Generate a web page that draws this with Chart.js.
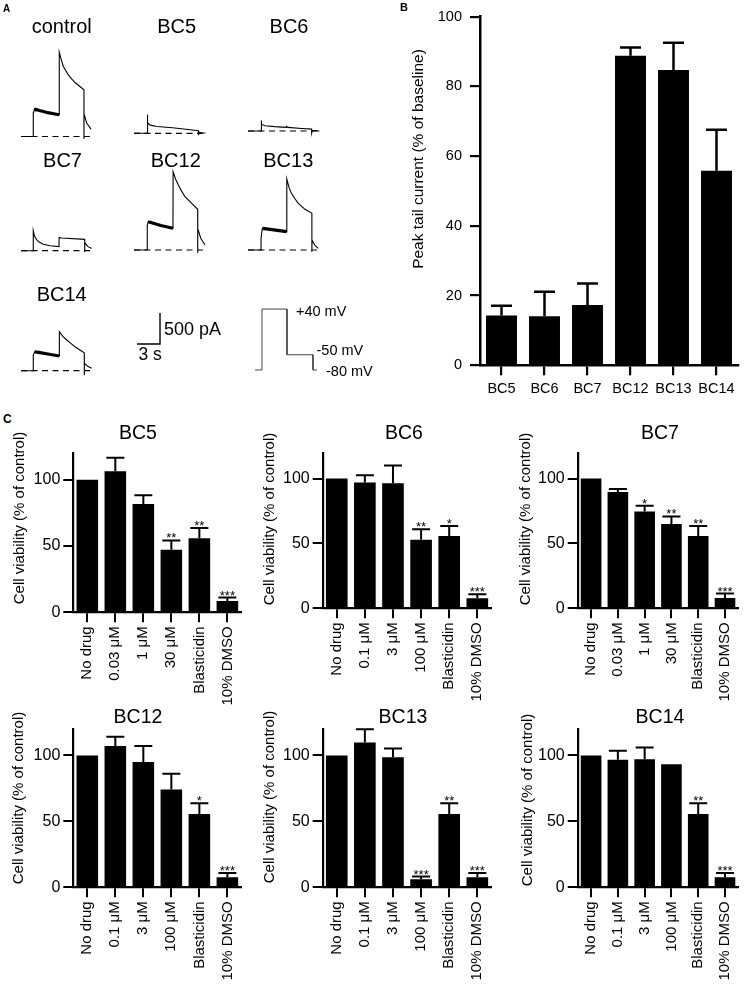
<!DOCTYPE html>
<html><head><meta charset="utf-8">
<script src="https://cdn.jsdelivr.net/npm/chart.js@4.4.1/dist/chart.umd.min.js"></script>
<style>
html,body{margin:0;padding:0;background:#fff;}
body{width:747px;height:984px;position:relative;overflow:hidden;font-family:"Liberation Sans",Arial,sans-serif;color:#000;}
canvas{position:absolute;}
.t{position:absolute;white-space:nowrap;line-height:1;color:#000;}
</style></head><body>
<script>
// ---------- DATA ----------
// Panel A: representative current traces (time in s, current in pA)
const controlT = [0, 1.6, 1.6, 1.75, 1.9, 2.4, 3.3, 4.97, 4.99, 5.25, 5.52, 5.85, 6.17, 6.6, 7.04, 7.6, 8.21, 8.21, 8.22, 8.56, 9.13];
const controlI = [0, 0, 380, 425, 440, 420, 390, 350, 1360, 1240, 1129, 1060, 995, 930, 871, 815, 753, -40, 366, 216, 119];
const bc5T = [0, 1.73, 1.73, 1.8, 2.1, 3.0, 5.0, 6.5, 8.4, 8.4, 8.45, 8.8, 9.3];
const bc5I = [0, 0, 300, 170, 132, 110, 90, 70, 42, -30, 20, 8, 5];
const bc6T = [0, 1.7, 1.7, 1.8, 2.2, 3.5, 5.0, 5.02, 5.2, 7.0, 8.3, 8.3, 8.4, 9.3];
const bc6I = [0, 0, 170, 110, 85, 70, 58, 75, 58, 40, 30, -35, 10, 0];
const bc7T = [0, 1.6, 1.6, 1.75, 2.0, 2.4, 2.9, 3.8, 4.95, 4.97, 5.3, 8.3, 8.3, 8.32, 8.7, 9.2];
const bc7I = [0, 0, 323, 240, 183, 135, 103, 80, 65, 215, 205, 183, -20, 129, 70, 37];
const bc12T = [0, 1.73, 1.73, 1.85, 2.3, 3.5, 5.08, 5.1, 5.4, 5.78, 6.2, 6.65, 7.52, 8.3, 8.3, 8.32, 8.7, 9.26];
const bc12I = [0, 0, 400, 457, 440, 395, 350, 1263, 1150, 1048, 950, 860, 753, 656, -50, 350, 190, 80];
const bc13T = [0, 1.7, 1.7, 1.87, 2.4, 3.6, 5.04, 5.06, 5.35, 5.66, 6.1, 6.56, 7.43, 8.33, 8.33, 8.35, 8.75, 9.17];
const bc13I = [0, 0, 190, 350, 340, 320, 296, 1145, 1010, 914, 830, 753, 656, 592, -30, 161, 70, 27];
const bc14T = [0, 1.6, 1.6, 1.8, 2.3, 3.5, 4.98, 5.0, 5.45, 5.96, 6.5, 7.04, 8.25, 8.25, 8.27, 8.7, 9.22];
const bc14I = [0, 0, 253, 306, 295, 270, 237, 629, 555, 495, 440, 387, 290, -70, 120, 70, 39];
const baselineT = [0, 9.4];            // dashed zero-current line extent (s)
const scaleBarT = [0, 3, 3];           // 3 s
const scaleBarI = [0, 0, 500];         // 500 pA
const protoT = [0, 0.91, 0.91, 4.17, 4.17, 7.56, 7.56, 8.08];   // s
const protoV = [-80, -80, 40, 40, -50, -50, -80, -80];           // mV
const protoLabels = ["+40 mV", "-50 mV", "-80 mV"];

// Panel B
const bLabels = ["BC5", "BC6", "BC7", "BC12", "BC13", "BC14"];
const bValues = [14.3, 14.1, 17.3, 88.8, 84.7, 55.8];
const bSem    = [2.8, 7.0, 6.2, 2.4, 7.8, 11.8];

// Panel C
const labels003 = ["No drug", "0.03 μM", "1 μM", "30 μM", "Blasticidin", "10% DMSO"];
const labels01  = ["No drug", "0.1 μM", "3 μM", "100 μM", "Blasticidin", "10% DMSO"];
const bc5Vals  = [100, 106.5, 81.8, 47.2, 55.8, 8.6];
const bc5Sem   = [0, 10.2, 6.5, 7.0, 7.8, 2.5];
const bc5Stars = ["", "", "", "**", "**", "***"];
const bc6Vals  = [100, 96.9, 96.4, 52.8, 55.7, 7.8];
const bc6Sem   = [0, 5.6, 13.6, 8.2, 7.8, 3.1];
const bc6Stars = ["", "", "", "**", "*", "***"];
const bc7Vals  = [100, 89.6, 74.6, 65.0, 55.7, 8.0];
const bc7Sem   = [0, 2.3, 4.4, 5.8, 7.8, 3.4];
const bc7Stars = ["", "", "*", "**", "**", "***"];
const bc12Vals = [100, 107.1, 94.9, 74.1, 55.6, 7.6];
const bc12Sem  = [0, 7.1, 12.2, 12.0, 8.1, 3.3];
const bc12Stars= ["", "", "", "", "*", "***"];
const bc13Vals = [100, 109.7, 98.5, 6.1, 55.6, 7.6];
const bc13Sem  = [0, 10.1, 6.8, 2.0, 8.1, 3.3];
const bc13Stars= ["", "", "", "***", "**", "***"];
const bc14Vals = [100, 96.7, 97.0, 93.2, 55.6, 7.6];
const bc14Sem  = [0, 6.9, 8.9, 0, 8.1, 3.3];
const bc14Stars= ["", "", "", "", "**", "***"];

// ---------- HELPERS ----------
const FAMILY = '"Liberation Sans", Arial, sans-serif';
Chart.defaults.font.family = FAMILY;
Chart.defaults.color = '#000';

function mkCanvas(left, top, w, h) {
  const c = document.createElement('canvas');
  c.width = w; c.height = h;
  c.style.left = left + 'px'; c.style.top = top + 'px';
  c.style.width = w + 'px'; c.style.height = h + 'px';
  document.body.appendChild(c);
  return c;
}
function txt(s, x, base, size, align, bold) {
  const d = document.createElement('div');
  d.className = 't'; d.textContent = s;
  d.style.fontSize = size + 'px';
  if (bold) d.style.fontWeight = 'bold';
  d.style.top = (base - 0.8465 * size) + 'px';
  d.style.left = x + 'px';
  if (align === 'center') d.style.transform = 'translateX(-50%)';
  else if (align === 'right') d.style.transform = 'translateX(-100%)';
  document.body.appendChild(d);
}
function vtxt(s, cx, cy, size) {
  const d = document.createElement('div');
  d.className = 't'; d.textContent = s;
  d.style.fontSize = size + 'px';
  d.style.left = cx + 'px'; d.style.top = cy + 'px';
  d.style.transform = 'translate(-50%,-50%) rotate(-90deg)';
  document.body.appendChild(d);
}

// ---------- PANEL A ----------
const PX_PER_S = 7.67, PA_PER_PX = 16.13, PX_PER_MV = 0.508;
const A_W = 380, A_H = 400;
const traces = [
  {T: controlT, I: controlI, cell: [21, 136.5], noisy: [2, 7]},
  {T: bc5T, I: bc5I, cell: [134, 133.3]},
  {T: bc6T, I: bc6I, cell: [248, 131]},
  {T: bc7T, I: bc7I, cell: [21, 250.7]},
  {T: bc12T, I: bc12I, cell: [134, 250], noisy: [2, 6]},
  {T: bc13T, I: bc13I, cell: [248, 250], noisy: [2, 6]},
  {T: bc14T, I: bc14I, cell: [21, 370.7], noisy: [2, 6]}
];
const aSets = [];
const lineBase = {showLine: true, pointRadius: 0, pointHoverRadius: 0, pointBorderWidth: 0, borderColor: '#000', fill: false, tension: 0, clip: false};
traces.forEach(tr => {
  const xo = tr.cell[0] / PX_PER_S, yo = (A_H - tr.cell[1]) * PA_PER_PX;
  aSets.push(Object.assign({}, lineBase, {
    data: baselineT.map(t => ({x: xo + t, y: yo})),
    borderDash: [6, 4.5], borderWidth: 1.2
  }));
  const pts = tr.T.map((t, i) => ({x: xo + t, y: yo + tr.I[i]}));
  aSets.push(Object.assign({}, lineBase, {data: pts, borderWidth: 1.1}));
  if (tr.noisy) {
    // noisy depolarised segment drawn as a thicker band over the same points
    aSets.push(Object.assign({}, lineBase, {data: pts.slice(tr.noisy[0] + 1, tr.noisy[1] + 1), borderWidth: 3.2, borderJoinStyle: 'round'}));
  }
});
// scale bar
{
  const xo = 137 / PX_PER_S, yo = (A_H - 344) * PA_PER_PX;
  aSets.push(Object.assign({}, lineBase, {
    data: scaleBarT.map((t, i) => ({x: xo + t, y: yo + scaleBarI[i]})),
    borderWidth: 1.4, borderJoinStyle: 'miter'
  }));
}
// voltage protocol
aSets.push(Object.assign({}, lineBase, {
  yAxisID: 'yV',
  data: protoT.map((t, i) => ({x: 255 / PX_PER_S + t, y: protoV[i]})),
  borderWidth: 1, borderColor: '#444', borderJoinStyle: 'miter'
}));

new Chart(mkCanvas(0, 0, A_W, A_H), {
  type: 'scatter',
  data: {datasets: aSets},
  options: {
    responsive: false, animation: false, events: [],
    layout: {padding: 0, autoPadding: false},
    plugins: {legend: {display: false}, tooltip: {enabled: false}},
    scales: {
      x: {type: 'linear', display: false, min: 0, max: A_W / PX_PER_S},
      y: {type: 'linear', display: false, min: 0, max: A_H * PA_PER_PX},
      yV: {type: 'linear', display: false, position: 'right',
           min: -80 - (A_H - 370) / PX_PER_MV, max: -80 + 370 / PX_PER_MV}
    }
  }
});

// Panel A text
txt('A', 3, 12.7, 10, 'left', true);
txt('control', 61.7, 33.3, 20, 'center');
txt('BC5', 176.7, 33.3, 20, 'center');
txt('BC6', 289, 33.3, 20, 'center');
txt('BC7', 62.5, 167, 20, 'center');
txt('BC12', 175.8, 167, 20, 'center');
txt('BC13', 288.3, 167, 20, 'center');
txt('BC14', 61.7, 300.7, 20, 'center');
txt(scaleBarI[2] + ' pA', 164, 335, 18, 'left');
txt(scaleBarT[1] + ' s', 138.5, 361, 17.5, 'left');
txt(protoLabels[0], 296, 316.7, 14.5, 'left');
txt(protoLabels[1], 316.5, 355, 14.5, 'left');
txt(protoLabels[2], 326, 376, 14.5, 'left');

// ---------- error bar / star plugin ----------
const errorBars = {
  id: 'errorBars',
  afterDatasetsDraw(chart, args, opts) {
    const ctx = chart.ctx, meta = chart.getDatasetMeta(0), ds = chart.data.datasets[0], ys = chart.scales.y;
    ctx.save();
    ctx.strokeStyle = '#000'; ctx.fillStyle = '#000'; ctx.lineWidth = opts.lineWidth || 2;
    meta.data.forEach((bar, i) => {
      const v = ds.data[i], e = (ds.errors || [])[i] || 0;
      const topPx = ys.getPixelForValue(v + e);
      if (e > 0) {
        ctx.beginPath();
        ctx.moveTo(bar.x, ys.getPixelForValue(v));
        ctx.lineTo(bar.x, topPx);
        ctx.moveTo(bar.x - opts.capWidth / 2, topPx);
        ctx.lineTo(bar.x + opts.capWidth / 2, topPx);
        ctx.stroke();
      }
      const s = (ds.stars || [])[i];
      if (s) {
        ctx.font = (opts.starSize || 13) + 'px ' + FAMILY;
        ctx.textAlign = 'center'; ctx.textBaseline = 'alphabetic';
        ctx.fillText(s, bar.x, topPx + 2);
      }
    });
    ctx.restore();
  }
};

// ---------- PANEL B ----------
new Chart(mkCanvas(380, 0, 367, 400), {
  type: 'bar',
  data: {labels: bLabels, datasets: [{data: bValues, errors: bSem, backgroundColor: '#000', borderWidth: 0,
    barPercentage: 0.72, categoryPercentage: 1}]},
  options: {
    responsive: false, animation: false, events: [],
    layout: {padding: {left: 0, top: 12.3, right: 9, bottom: 0}},
    plugins: {legend: {display: false}, tooltip: {enabled: false}, errorBars: {capWidth: 21, lineWidth: 2.5}},
    scales: {
      x: {offset: true,
          grid: {display: true, drawOnChartArea: false, drawTicks: true, tickLength: 10, color: '#000', lineWidth: 2.2, offset: false},
          border: {display: true, color: '#000', width: 2.5},
          ticks: {color: '#000', font: {size: 14.5}, padding: 5, maxRotation: 0, minRotation: 0, autoSkip: false},
          afterFit: s => { s.height = 34.7; }},
      y: {min: 0, max: 100,
          ticks: {stepSize: 20, color: '#000', font: {size: 14.5}, padding: 8},
          grid: {display: true, drawOnChartArea: false, drawTicks: true, tickLength: 10, color: '#000', lineWidth: 2.2},
          border: {display: true, color: '#000', width: 2.5},
          afterFit: s => { s.width = 100; }}
    }
  },
  plugins: [errorBars]
});
txt('B', 400, 11.7, 11, 'left', true);
vtxt('Peak tail current (% of baseline)', 417.5, 159, 15.5);

// ---------- PANEL C ----------
function cChart(left, top, w, h, axisX, areaTop, areaBottom, areaRight, labels, vals, sem, stars) {
  new Chart(mkCanvas(left, top, w, h), {
    type: 'bar',
    data: {labels: labels, datasets: [{data: vals, errors: sem, stars: stars, backgroundColor: '#000', borderWidth: 0,
      barPercentage: 0.77, categoryPercentage: 1}]},
    options: {
      responsive: false, animation: false, events: [],
      layout: {padding: {left: 0, top: areaTop - top, right: left + w - areaRight, bottom: 0}},
      plugins: {legend: {display: false}, tooltip: {enabled: false}, errorBars: {capWidth: 18, lineWidth: 2, starSize: 13}},
      scales: {
        x: {offset: true,
            grid: {display: true, drawOnChartArea: false, drawTicks: true, tickLength: 10, color: '#000', lineWidth: 2, offset: false},
            border: {display: true, color: '#000', width: 2.2},
            ticks: {color: '#000', font: {size: 15}, padding: 4, maxRotation: 90, minRotation: 90, autoSkip: false},
            afterFit: s => { s.height = top + h - areaBottom; }},
        y: {min: 0, max: 120,
            ticks: {stepSize: 50, includeBounds: false, color: '#000', font: {size: 16}, padding: 3},
            grid: {display: true, drawOnChartArea: false, drawTicks: true, tickLength: 10, color: '#000', lineWidth: 2},
            border: {display: true, color: '#000', width: 2.2},
            afterFit: s => { s.width = axisX - left; }}
      }
    },
    plugins: [errorBars]
  });
}
cChart(0, 440, 250, 290, 73.3, 453.3, 612.3, 242.5, labels003, bc5Vals, bc5Sem, bc5Stars);
cChart(250, 440, 250, 290, 322.7, 450, 608.3, 491.9, labels01, bc6Vals, bc6Sem, bc6Stars);
cChart(505, 440, 242, 290, 577.7, 450, 608.3, 746.9, labels003, bc7Vals, bc7Sem, bc7Stars);
cChart(0, 716, 250, 268, 73.3, 729, 887.3, 242.5, labels01, bc12Vals, bc12Sem, bc12Stars);
cChart(250, 716, 250, 268, 322.7, 729, 887.3, 491.9, labels01, bc13Vals, bc13Sem, bc13Stars);
cChart(505, 716, 242, 268, 577.7, 729, 887.3, 746.9, labels01, bc14Vals, bc14Sem, bc14Stars);

txt('C', 3, 423, 12, 'left', true);
txt('BC5', 138, 439.3, 19.5, 'center');
txt('BC6', 404, 439.3, 19.5, 'center');
txt('BC7', 660, 439.3, 19.5, 'center');
txt('BC12', 138, 724, 19.5, 'center');
txt('BC13', 403, 724, 19.5, 'center');
txt('BC14', 660, 724, 19.5, 'center');
const yTitleC = 'Cell viability (% of control)';
vtxt(yTitleC, 18, 518, 15);
vtxt(yTitleC, 268, 519, 15);
vtxt(yTitleC, 524, 519, 15);
vtxt(yTitleC, 17, 798, 15);
vtxt(yTitleC, 268, 797, 15);
vtxt(yTitleC, 526, 800, 15);
</script>
</body></html>
